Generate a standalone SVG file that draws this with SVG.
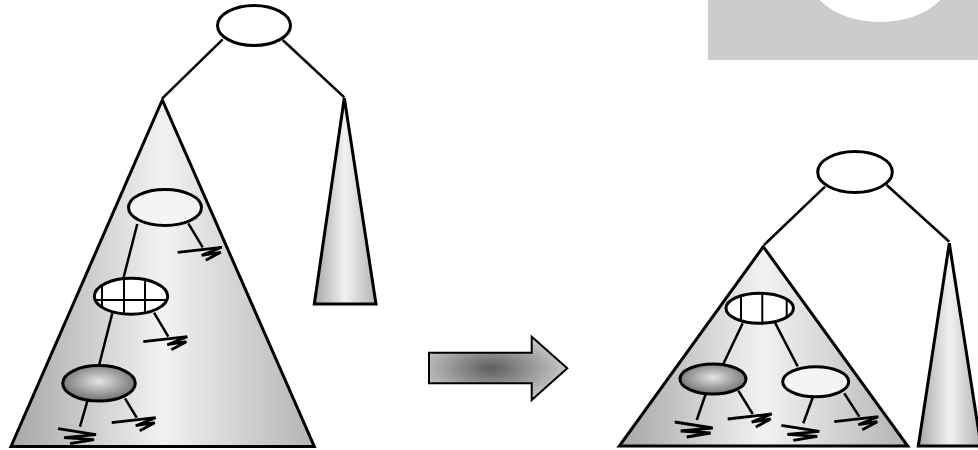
<svg xmlns="http://www.w3.org/2000/svg" xmlns:xlink="http://www.w3.org/1999/xlink" width="978" height="450" viewBox="0 0 978 450">
  <defs>
    <linearGradient id="tri" x1="0" y1="0" x2="1" y2="0">
      <stop offset="0" stop-color="#a6a6a6"/>
      <stop offset="0.5" stop-color="#f2f2f2"/>
      <stop offset="1" stop-color="#b4b4b4"/>
    </linearGradient>
    <radialGradient id="dark" cx="0.5" cy="0.45" r="0.55">
      <stop offset="0" stop-color="#e4e4e4"/>
      <stop offset="1" stop-color="#707070"/>
    </radialGradient>
    <radialGradient id="arr" cx="0.45" cy="0.5" r="0.6">
      <stop offset="0" stop-color="#5e5e5e"/>
      <stop offset="1" stop-color="#d4d4d4"/>
    </radialGradient>
    <clipPath id="clipL"><ellipse cx="131" cy="296.3" rx="36.7" ry="18"/></clipPath>
    <clipPath id="clipR"><ellipse cx="759.7" cy="308.3" rx="33.7" ry="15"/></clipPath>
    <path id="zr" d="M-25,5 L19,0 L-1,8 L18,5 L3,13"/>
    <path id="zl" d="M-22,2 L16,8 L-16,11 L14,13 L-10,17"/>
  </defs>
  <style>
    .tri { fill: url(#tri); stroke: #000; stroke-width: 3; stroke-linejoin: miter; }
    .node { stroke: #000; stroke-width: 3; }
    .edge { stroke: #000; stroke-width: 2.5; fill: none; }
    .zig { stroke: #000; stroke-width: 2.8; fill: none; stroke-linejoin: miter; }
    .grid { stroke: #000; stroke-width: 2; }
  </style>

  <g id="corner">
    <rect x="708" y="0" width="270" height="60" fill="#cccccc"/>
    <ellipse cx="880" cy="-23" rx="70" ry="45" fill="#ffffff"/>
  </g>

  <g id="left-subtree">
    <polygon class="tri" points="162.3,100 11,446.5 314.3,446.5"/>
  </g>
  <g id="left-right-subtree">
    <polygon class="tri" points="344.3,98 314.3,304 376,304"/>
  </g>
  <g id="right-subtree">
    <polygon class="tri" points="763.3,246.7 619.3,446 907.7,446"/>
  </g>
  <g id="right-right-subtree">
    <polygon class="tri" points="949.3,243.3 918.3,446 981,446"/>
  </g>

  <g id="connectors">
    <line class="edge" x1="222.7" y1="39.3" x2="162.3" y2="98.3"/>
    <line class="edge" x1="282.7" y1="40" x2="344.3" y2="97.3"/>
    <line class="edge" x1="137.3" y1="224" x2="123.3" y2="278.5"/>
    <line class="edge" x1="188.3" y1="223.3" x2="202.7" y2="247.3"/>
    <line class="edge" x1="112.3" y1="313.3" x2="99" y2="365.5"/>
    <line class="edge" x1="154" y1="312.7" x2="168.3" y2="336.7"/>
    <line class="edge" x1="87.7" y1="400" x2="80" y2="426.7"/>
    <line class="edge" x1="125" y1="398.3" x2="136.7" y2="417.7"/>
    <line class="edge" x1="825" y1="186.7" x2="764" y2="245"/>
    <line class="edge" x1="886.7" y1="185" x2="949.3" y2="241.7"/>
    <line class="edge" x1="742.7" y1="323.3" x2="723.3" y2="364"/>
    <line class="edge" x1="775" y1="322.7" x2="797.7" y2="366.5"/>
    <line class="edge" x1="705.7" y1="394" x2="696.7" y2="420"/>
    <line class="edge" x1="738.3" y1="390.7" x2="752.7" y2="414"/>
    <line class="edge" x1="813.3" y1="396" x2="803.3" y2="423.3"/>
    <line class="edge" x1="844.3" y1="393.3" x2="859.3" y2="416.7"/>
    <use xlink:href="#zr" class="zig" x="202.7" y="247.3"/>
    <use xlink:href="#zr" class="zig" x="168.3" y="336.7"/>
    <use xlink:href="#zl" class="zig" x="80" y="426.7"/>
    <use xlink:href="#zr" class="zig" x="136.7" y="417.7"/>
    <use xlink:href="#zl" class="zig" x="696.7" y="420"/>
    <use xlink:href="#zr" class="zig" x="752.7" y="414"/>
    <use xlink:href="#zl" class="zig" x="803.3" y="423.3"/>
    <use xlink:href="#zr" class="zig" x="859.3" y="416.7"/>
  </g>

  <g id="left-root">
    <ellipse class="node" cx="254" cy="25.5" rx="36.5" ry="20" fill="#ffffff"/>
  </g>
  <g id="left-n1">
    <ellipse class="node" cx="165" cy="207.5" rx="36.5" ry="18" fill="#f4f4f4"/>
  </g>
  <g id="left-n2">
    <ellipse cx="131" cy="296.3" rx="36.7" ry="18" fill="#ffffff"/>
    <g clip-path="url(#clipL)">
      <line class="grid" x1="102" y1="270" x2="102" y2="320"/>
      <line class="grid" x1="124" y1="270" x2="124" y2="320"/>
      <line class="grid" x1="145" y1="270" x2="145" y2="320"/>
      <line class="grid" x1="90" y1="300" x2="175" y2="300"/>
    </g>
    <ellipse class="node" cx="131" cy="296.3" rx="36.7" ry="18" fill="none"/>
  </g>
  <g id="left-n3">
    <ellipse class="node" cx="99" cy="383.3" rx="36.3" ry="17.7" fill="url(#dark)"/>
  </g>

  <g id="arrow">
    <polygon points="429,352.7 531.7,352.7 531.7,336.7 567.3,368.3 531.7,400 531.7,383.3 429,383.3" fill="url(#arr)" stroke="#000" stroke-width="2"/>
  </g>

  <g id="right-root">
    <ellipse class="node" cx="855" cy="172" rx="37.3" ry="20.5" fill="#ffffff"/>
  </g>
  <g id="right-n1">
    <ellipse cx="759.7" cy="308.3" rx="33.7" ry="15" fill="#ffffff"/>
    <g clip-path="url(#clipR)">
      <line class="grid" x1="741" y1="290" x2="741" y2="330"/>
      <line class="grid" x1="762.3" y1="290" x2="762.3" y2="330"/>
      <line class="grid" x1="786.7" y1="290" x2="786.7" y2="330"/>
    </g>
    <ellipse class="node" cx="759.7" cy="308.3" rx="33.7" ry="15" fill="none"/>
  </g>
  <g id="right-n2">
    <ellipse class="node" cx="713" cy="379" rx="33" ry="15" fill="url(#dark)"/>
  </g>
  <g id="right-n3">
    <ellipse class="node" cx="815.7" cy="381.7" rx="33" ry="15" fill="#f4f4f4"/>
  </g>
</svg>
